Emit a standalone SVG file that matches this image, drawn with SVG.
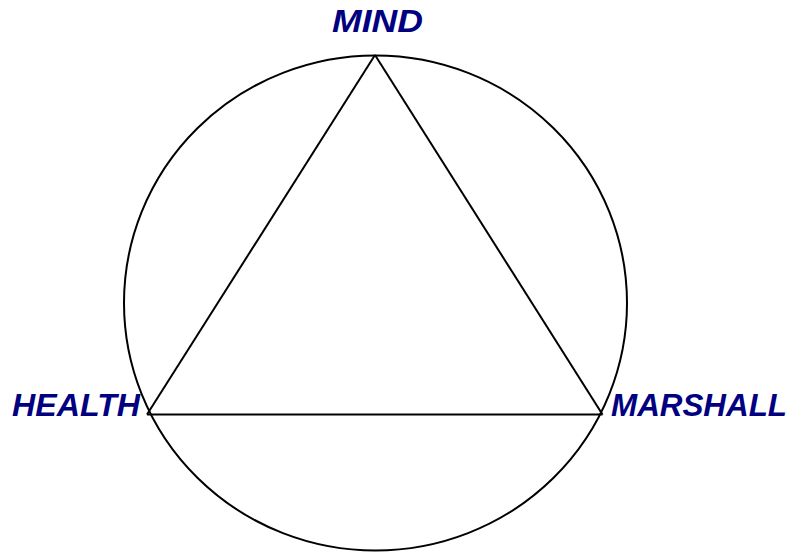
<svg xmlns="http://www.w3.org/2000/svg" width="790" height="552" viewBox="0 0 790 552">
<style>
.lbl{font-family:"Liberation Sans",Arial,sans-serif;font-size:31px;font-weight:bold;font-style:italic;fill:#000080}
.ln{fill:none;stroke:#000;stroke-width:2}
</style>
<rect width="790" height="552" fill="#fff"/>
<g id="connectors">
<ellipse class="ln" cx="375.5" cy="303" rx="251.5" ry="247.5"/>
<line class="ln" x1="375" y1="55" x2="147" y2="414.5"/>
<line class="ln" x1="375" y1="55" x2="602.5" y2="414.5"/>
<line class="ln" x1="147" y1="414.5" x2="602.5" y2="414.5"/>
</g>
<g id="mind"><text class="lbl" x="332" y="32" textLength="91" lengthAdjust="spacingAndGlyphs">MIND</text></g>
<g id="health"><text class="lbl" x="12" y="416" textLength="128" lengthAdjust="spacingAndGlyphs">HEALTH</text></g>
<g id="marshall"><text class="lbl" x="611" y="416" textLength="176" lengthAdjust="spacingAndGlyphs">MARSHALL</text></g>
</svg>
